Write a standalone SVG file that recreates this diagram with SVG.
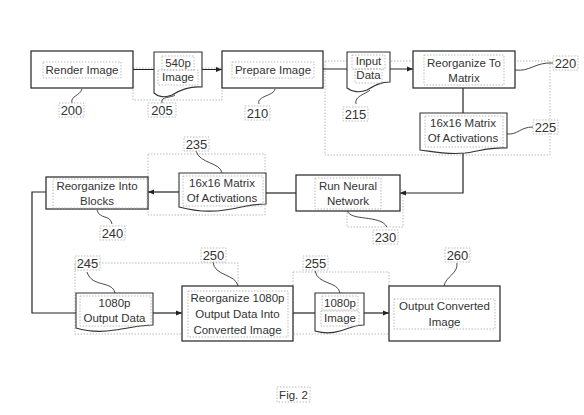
<svg xmlns="http://www.w3.org/2000/svg" width="584" height="415" viewBox="0 0 584 415">
<defs>
<marker id="arr" viewBox="0 0 10 10" refX="10" refY="5" markerWidth="5" markerHeight="5" orient="auto"><path d="M0,1 L10,5 L0,9 Z" fill="#222"/></marker>
<style>
.box{fill:#fff;stroke:#333;stroke-width:1.3}
.doc{fill:#fff;stroke:#333;stroke-width:1.1}
.dot{fill:none;stroke:#aaa;stroke-width:0.8;stroke-dasharray:1.5 1.5}
.ln{fill:none;stroke:#222;stroke-width:1.2}
.ld{fill:none;stroke:#333;stroke-width:0.9}
text{font-family:"Liberation Sans",Arial,sans-serif;font-size:11.5px;fill:#333;text-anchor:middle}
.n{font-size:13px}
</style>
</defs>
<rect width="584" height="415" fill="#fff"/>

<!-- group frames (dotted) -->
<g id="frames">
<rect class="dot" x="133" y="68" width="89" height="32"/>
<rect class="dot" x="325" y="61" width="225" height="94"/>
<rect class="dot" x="347" y="190" width="56" height="37"/>
<rect class="dot" x="148" y="154" width="117" height="61"/>
<rect class="dot" x="75" y="263" width="163" height="71"/>
<rect class="dot" x="293" y="272" width="96" height="62"/>
</g>

<g id="connectors">
<line class="ln" x1="133" y1="69.5" x2="222" y2="69.5" marker-end="url(#arr)"/>
<line class="ln" x1="323" y1="69" x2="413" y2="69" marker-end="url(#arr)"/>
<line class="ln" x1="463" y1="88" x2="463" y2="113"/>
<polyline class="ln" points="463,150 463,193 400,193" marker-end="url(#arr)"/>
<line class="ln" x1="296" y1="193" x2="266" y2="193"/>
<line class="ln" x1="179" y1="192" x2="148" y2="192" marker-end="url(#arr)"/>
<polyline class="ln" points="46,192 32,192 32,313 76,313"/>
<line class="ln" x1="153" y1="313" x2="182" y2="313" marker-end="url(#arr)"/>
<line class="ln" x1="293" y1="313" x2="315" y2="313"/>
<line class="ln" x1="364" y1="313" x2="389" y2="313" marker-end="url(#arr)"/>
</g>

<g id="leaders">
<path class="ld" d="M72,103 C70,96 80,96 82,89"/>
<path class="ld" d="M162,103 C160,96 172,98 175,95"/>
<path class="ld" d="M259,104 C256,96 274,96 275,89"/>
<path class="ld" d="M356,104 C354,96 366,94 370,90"/>
<path class="ld" d="M515,70 C530,72 535,62 553,63"/>
<path class="ld" d="M507,134 C518,135 520,127 533,127"/>
<path class="ld" d="M347,210 C350,222 380,214 387,227"/>
<path class="ld" d="M196,151 C200,164 220,162 222,173"/>
<path class="ld" d="M97,210 C100,220 110,214 112,224"/>
<path class="ld" d="M87,272 C92,288 112,280 115,293"/>
<path class="ld" d="M213,262 C214,276 236,274 238,286"/>
<path class="ld" d="M315,271 C318,285 338,281 340,293"/>
<path class="ld" d="M457,263 C458,274 446,276 444,286"/>
</g>

<g id="n200">
<rect class="box" x="31" y="51" width="102" height="37"/>
<rect class="dot" x="43" y="62" width="78" height="16"/>
<text x="82" y="74">Render Image</text>
<rect class="dot" x="59" y="103" width="25" height="14"/>
<text class="n" x="71.5" y="115">200</text>
</g>

<g id="n205">
<path class="doc" d="M154,52 H202 V87 C190,86 180,90 172,95 C165,98 158,97 154,93 Z"/>
<rect class="dot" x="162" y="56" width="32" height="14"/>
<rect class="dot" x="158" y="70" width="40" height="15"/>
<text x="178" y="67">540p</text>
<text x="178" y="81">Image</text>
<rect class="dot" x="148" y="103" width="28" height="14"/>
<text class="n" x="162" y="115">205</text>
</g>

<g id="n210">
<rect class="box" x="222" y="51" width="101" height="37"/>
<rect class="dot" x="232" y="62" width="82" height="16"/>
<text x="273" y="74">Prepare Image</text>
<rect class="dot" x="245" y="106" width="25" height="14"/>
<text class="n" x="257.5" y="118">210</text>
</g>

<g id="n215">
<path class="doc" d="M347,52 H390 V82 C380,82 374,86 367,90 C360,93 352,92 347,88 Z"/>
<rect class="dot" x="352" y="55" width="33" height="14"/>
<rect class="dot" x="355" y="69" width="27" height="14"/>
<text x="368.5" y="65">Input</text>
<text x="368.5" y="79">Data</text>
<rect class="dot" x="343" y="107" width="25" height="14"/>
<text class="n" x="355.5" y="119">215</text>
</g>

<g id="n220">
<rect class="box" x="413" y="51" width="102" height="37"/>
<rect class="dot" x="424" y="55" width="80" height="30"/>
<text x="464" y="67">Reorganize To</text>
<text x="464" y="82">Matrix</text>
<rect class="dot" x="553" y="56" width="25" height="14"/>
<text class="n" x="565.5" y="68">220</text>
</g>

<g id="n225">
<path class="doc" d="M420,113 H507 V148 C490,147 480,151 465,153 C445,155 430,151 420,150 Z"/>
<rect class="dot" x="425" y="116" width="78" height="31"/>
<text x="463" y="127">16x16 Matrix</text>
<text x="463" y="142">Of Activations</text>
<rect class="dot" x="533" y="120" width="25" height="14"/>
<text class="n" x="545.5" y="132">225</text>
</g>

<g id="n230">
<rect class="box" x="296" y="175" width="104" height="36"/>
<rect class="dot" x="315" y="178" width="66" height="31"/>
<text x="348" y="190">Run Neural</text>
<text x="348" y="205">Network</text>
<rect class="dot" x="373" y="230" width="25" height="14"/>
<text class="n" x="385.5" y="242">230</text>
</g>

<g id="n235">
<path class="doc" d="M179,173 H266 V204 C250,204 240,208 225,210 C205,213 190,210 179,207 Z"/>
<rect class="dot" x="183" y="176" width="80" height="30"/>
<text x="222" y="187">16x16 Matrix</text>
<text x="222" y="202">Of Activations</text>
<rect class="dot" x="184" y="137" width="25" height="14"/>
<text class="n" x="196.5" y="149">235</text>
</g>

<g id="n240">
<rect class="box" x="46" y="177" width="102" height="32"/>
<rect class="dot" x="53" y="179" width="94" height="29"/>
<text x="97" y="190">Reorganize Into</text>
<text x="97" y="205">Blocks</text>
<rect class="dot" x="100" y="226" width="25" height="14"/>
<text class="n" x="112.5" y="238">240</text>
</g>

<g id="n245">
<path class="doc" d="M76,293 H153 V325 C140,325 130,328 115,330 C97,333 86,331 76,328 Z"/>
<rect class="dot" x="80" y="296" width="71" height="30"/>
<text x="114.5" y="307">1080p</text>
<text x="114.5" y="322">Output Data</text>
<rect class="dot" x="75" y="256" width="25" height="14"/>
<text class="n" x="87.5" y="268">245</text>
</g>

<g id="n250">
<rect class="box" x="182" y="286" width="111" height="55"/>
<rect class="dot" x="188" y="291" width="100" height="46"/>
<text x="237.5" y="302">Reorganize 1080p</text>
<text x="237.5" y="318">Output Data Into</text>
<text x="237.5" y="334">Converted Image</text>
<rect class="dot" x="201" y="248" width="25" height="14"/>
<text class="n" x="213.5" y="260">250</text>
</g>

<g id="n255">
<path class="doc" d="M315,293 H364 V325 C355,325 350,328 340,331 C330,334 322,333 315,331 Z"/>
<rect class="dot" x="322" y="296" width="36" height="14"/>
<rect class="dot" x="321" y="311" width="38" height="15"/>
<text x="340" y="307">1080p</text>
<text x="340" y="322">Image</text>
<rect class="dot" x="303" y="256" width="25" height="14"/>
<text class="n" x="315.5" y="268">255</text>
</g>

<g id="n260">
<rect class="box" x="389" y="286" width="111" height="55"/>
<rect class="dot" x="394" y="299" width="101" height="30"/>
<text x="444.5" y="310">Output Converted</text>
<text x="444.5" y="326">Image</text>
<rect class="dot" x="445" y="248" width="25" height="14"/>
<text class="n" x="457.5" y="260">260</text>
</g>

<g id="caption">
<rect class="dot" x="277" y="387" width="33" height="15"/>
<text x="293.5" y="398.5">Fig. 2</text>
</g>
</svg>
